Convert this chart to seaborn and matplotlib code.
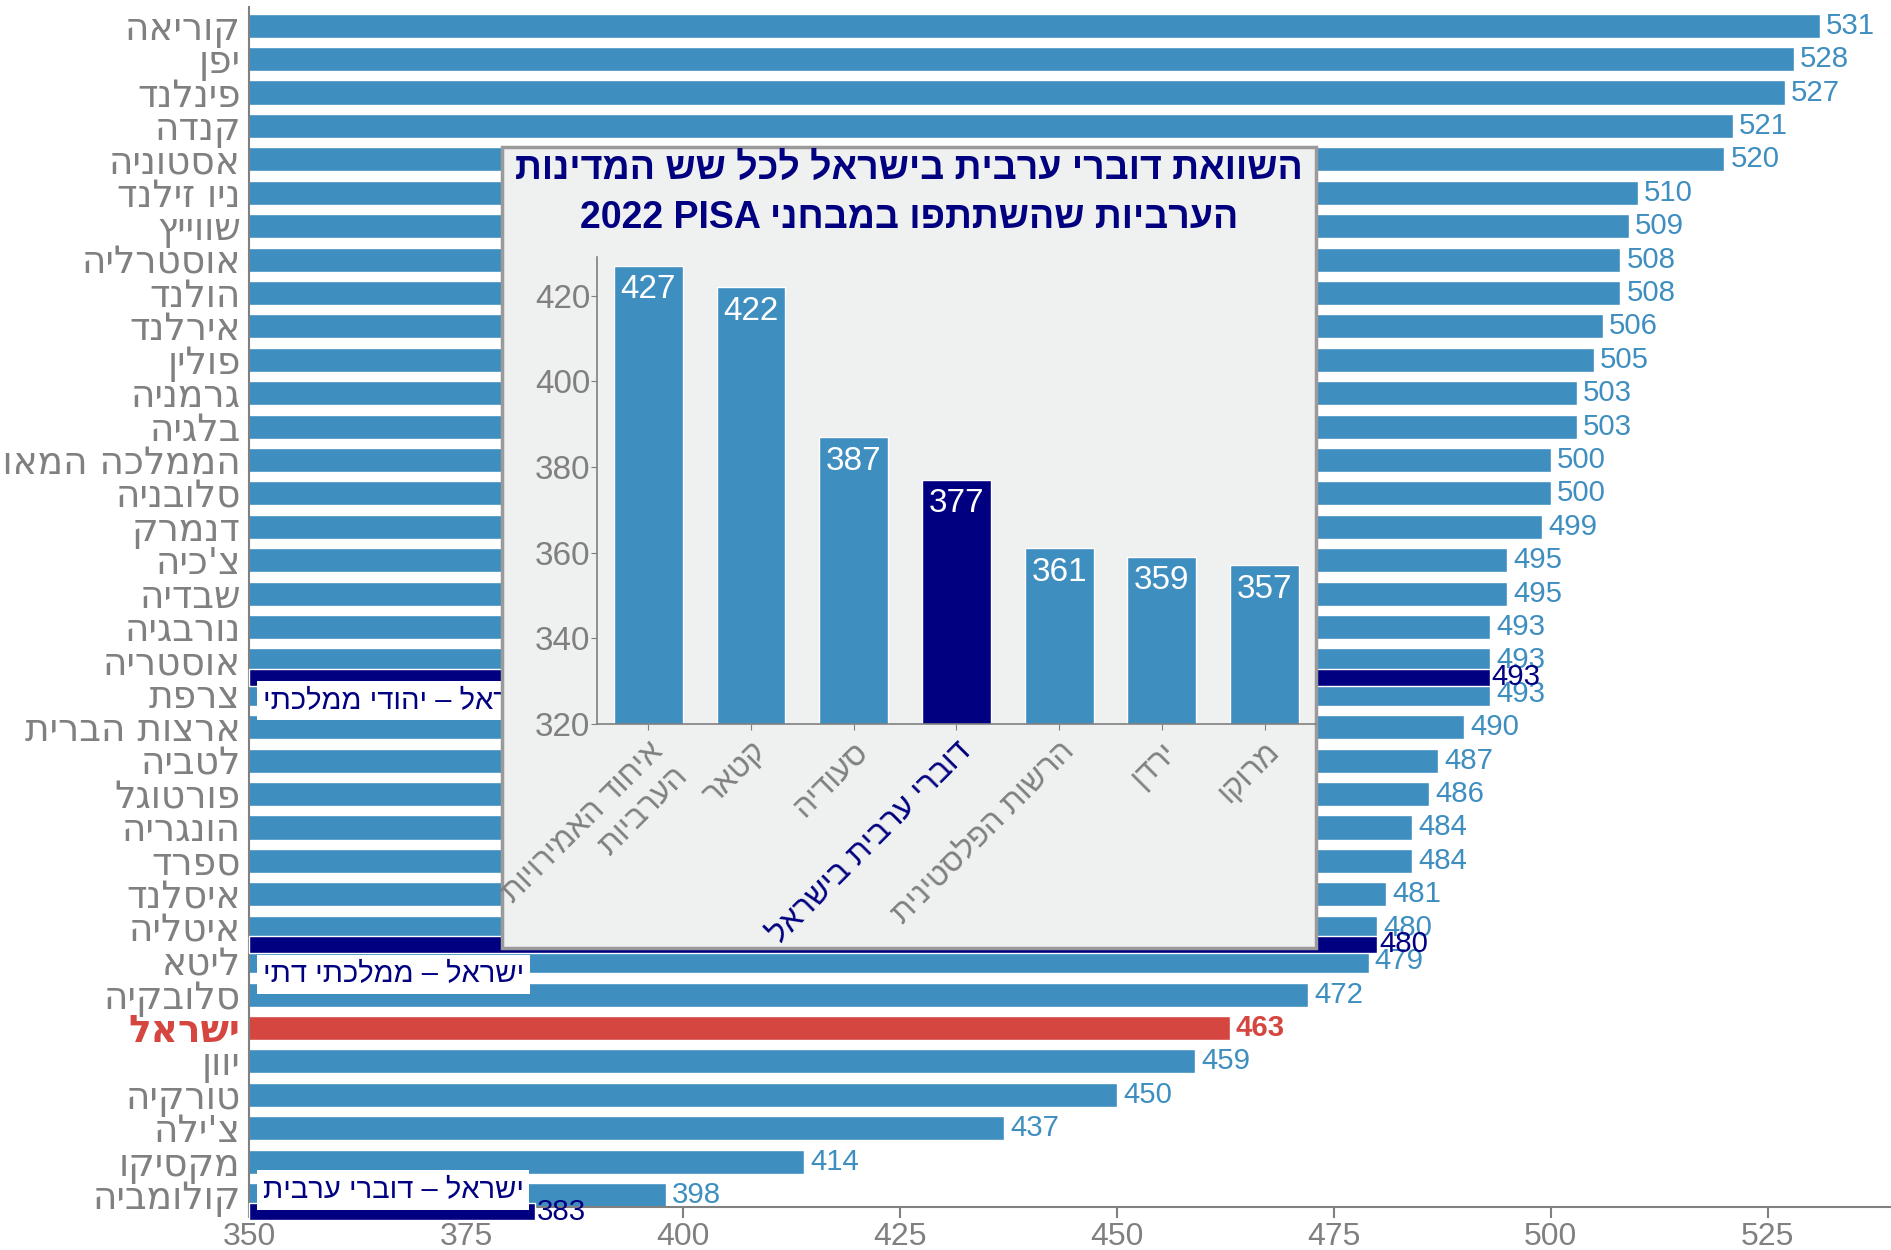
import re
import matplotlib
matplotlib.use("Agg")
import matplotlib.pyplot as plt
import seaborn as sns
import pandas as pd
from matplotlib import font_manager
from matplotlib.patches import Rectangle

# PISA 2022 - mathematics, OECD countries
countries = [
    "קוריאה", "יפן", "פינלנד", "קנדה", "אסטוניה", "ניו זילנד", "שווייץ",
    "אוסטרליה", "הולנד", "אירלנד", "פולין", "גרמניה", "בלגיה",
    "הממלכה המאוחדת", "סלובניה", "דנמרק", "צ'כיה", "שבדיה", "נורבגיה",
    "אוסטריה", "צרפת", "ארצות הברית", "לטביה", "פורטוגל", "הונגריה",
    "ספרד", "איסלנד", "איטליה", "ליטא", "סלובקיה", "ישראל", "יוון",
    "טורקיה", "צ'ילה", "מקסיקו", "קולומביה",
]
scores = [
    531, 528, 527, 521, 520, 510, 509, 508, 508, 506, 505, 503, 503,
    500, 500, 499, 495, 495, 493, 493, 493, 490, 487, 486, 484, 484,
    481, 480, 479, 472, 463, 459, 450, 437, 414, 398,
]

# Israeli sub-groups, drawn between rows
groups = ["ישראל – יהודי ממלכתי", "ישראל – ממלכתי דתי", "ישראל – דוברי ערבית"]
group_scores = [493, 480, 383]
group_rows = [19.5, 27.5, 35.5]
group_label_rows = [20.2, 28.4, 34.85]

# inset: Arab countries
arab_names = ["איחוד האמירויות\nהערביות", "קטאר", "סעודיה", "דוברי ערבית בישראל",
              "הרשות הפלסטינית", "ירדן", "מרוקו"]
arab_scores = [427, 422, 387, 377, 361, 359, 357]
inset_title = ["השוואת דוברי ערבית בישראל לכל שש המדינות",
               "הערביות שהשתתפו במבחני PISA 2022"]

BLUE = "#3f8ec0"
NAVY = "#000080"
RED = "#d4463f"
GRAY = "#808080"


def rtl(s):
    # matplotlib has no bidi: reverse hebrew, keep latin/digit runs
    out = []
    for line in s.split("\n"):
        r = line[::-1]
        r = re.sub(r"[A-Za-z0-9]+", lambda m: m.group(0)[::-1], r)
        out.append(r)
    return "\n".join(out)


sns.set_style("white")
plt.rcParams["font.family"] = ["Liberation Sans", "DejaVu Sans"]

# numbers in the original look like a narrow arial
installed = {f.name for f in font_manager.fontManager.ttflist}
if "Liberation Sans Narrow" in installed:
    NUM = "Liberation Sans Narrow"
    k = 1.0
else:
    NUM = "Liberation Sans"
    k = 0.92

fig = plt.figure(figsize=(18.91, 12.5), dpi=100)
ax = fig.add_axes([0.1317, 0.0344, 0.8683, 0.96])

df = pd.DataFrame({"country": countries, "score": scores})
colors = [RED if c == "ישראל" else BLUE for c in countries]
sns.barplot(data=df, y="country", x="score", hue="country", palette=colors,
            legend=False, width=0.72, saturation=1, ax=ax)

# navy bars for the Israeli sub-groups
ax.barh(group_rows, [s - 350 for s in group_scores], left=350, height=0.5,
        color=NAVY, zorder=3, clip_on=False)

for i, (c, v) in enumerate(zip(countries, scores)):
    isr = c == "ישראל"
    ax.text(v + 0.7, i, str(v), ha="left", va="center", fontsize=23 * k, family=NUM,
            color=RED if isr else BLUE, fontweight="bold" if isr else "normal")

for g, v, y, ly in zip(groups, group_scores, group_rows, group_label_rows):
    ax.text(v + 0.2, y, str(v), ha="left", va="center", fontsize=23 * k, family=NUM,
            color=NAVY, zorder=4)
    ax.text(351.6, ly, rtl(g), ha="left", va="center", fontsize=21, color=NAVY, zorder=4,
            bbox=dict(facecolor="white", edgecolor="none", pad=4))

ax.set_xlim(350, 539.2)
ax.set_ylim(35.36, -0.56)
ax.set_xticks(range(350, 526, 25))
ax.set_yticks(range(len(countries)))
ax.set_yticklabels([rtl(c) for c in countries], fontsize=27, color=GRAY,
                   family="DejaVu Sans")
for lab, c in zip(ax.get_yticklabels(), countries):
    if c == "ישראל":
        lab.set_color(RED)
        lab.set_fontweight("bold")
for lab in ax.get_xticklabels():
    lab.set_family(NUM)
ax.set_xlabel("")
ax.set_ylabel("")
ax.tick_params(axis="x", labelsize=25 * k, labelcolor=GRAY, color=GRAY, length=8,
               width=1.5, bottom=True, pad=3)
ax.tick_params(axis="y", length=0, pad=6)
sns.despine(ax=ax)
for s in ["left", "bottom"]:
    ax.spines[s].set_color(GRAY)
    ax.spines[s].set_linewidth(1.5)

# inset box
fig.add_artist(Rectangle((0.2655, 0.2416), 0.4305, 0.6408, transform=fig.transFigure,
                         facecolor="#eff0f0", edgecolor="#9a9a9a", linewidth=2.5, zorder=1))
fig.text(0.4807, 0.8648, rtl(inset_title[0]), ha="center", va="center", fontsize=27,
         fontweight="bold", color=NAVY, zorder=3)
fig.text(0.4807, 0.8256, rtl(inset_title[1]), ha="center", va="center", fontsize=27,
         fontweight="bold", color=NAVY, zorder=3)

ax2 = fig.add_axes([0.3157, 0.4208, 0.3802, 0.3736], zorder=2)
ax2.patch.set_alpha(0)
df2 = pd.DataFrame({"name": arab_names, "score": arab_scores})
colors2 = [NAVY if "בישראל" in n else BLUE for n in arab_names]
sns.barplot(data=df2, x="name", y="score", hue="name", palette=colors2, legend=False,
            width=0.67, saturation=1, ax=ax2)
for i, v in enumerate(arab_scores):
    ax2.text(i, v - 2.0, str(v), ha="center", va="top", fontsize=26 * k, family=NUM,
             color="white")
ax2.set_ylim(320, 429)
ax2.set_xlim(-0.5, 6.5)
ax2.set_yticks(range(320, 421, 20))
ax2.set_xticks(range(len(arab_names)))
ax2.set_xticklabels([rtl(n) for n in arab_names], rotation=45, ha="right",
                    rotation_mode="anchor", fontsize=22.5, color=GRAY, multialignment="right")
for lab, n in zip(ax2.get_xticklabels(), arab_names):
    if "בישראל" in n:
        lab.set_color(NAVY)
for lab in ax2.get_yticklabels():
    lab.set_family(NUM)
ax2.set_xlabel("")
ax2.set_ylabel("")
ax2.tick_params(axis="y", labelsize=26 * k, labelcolor=GRAY, color=GRAY, length=4,
                left=True, pad=1)
ax2.tick_params(axis="x", color=GRAY, length=4, bottom=True, pad=5)
sns.despine(ax=ax2)
for s in ["left", "bottom"]:
    ax2.spines[s].set_color(GRAY)
    ax2.spines[s].set_linewidth(1.2)

fig.savefig("out.png", dpi=100)
